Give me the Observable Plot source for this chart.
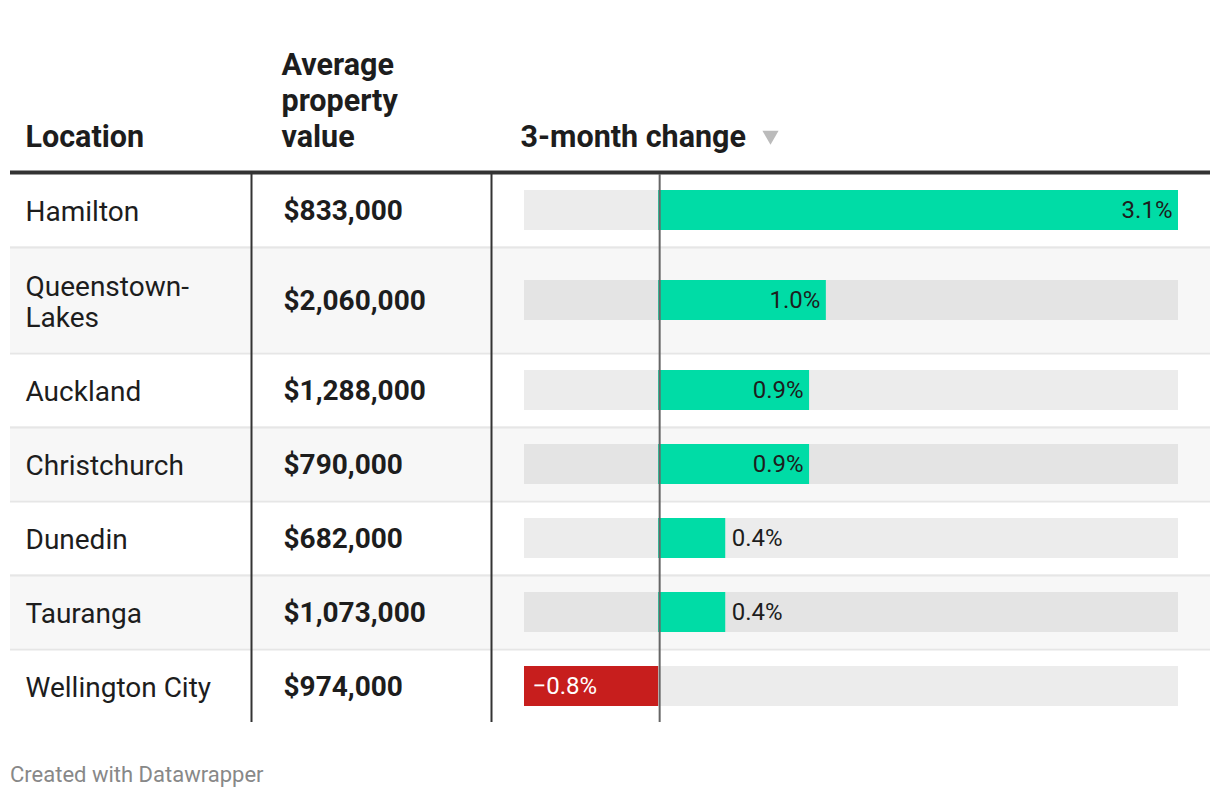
<!DOCTYPE html>
<html><head><meta charset="utf-8">
<script src="https://cdn.jsdelivr.net/npm/d3@7"></script>
<script src="https://cdn.jsdelivr.net/npm/@observablehq/plot@0.6"></script>
<style>
body{margin:0;background:#fff;font-family:Roboto,sans-serif;}
#chart{position:relative;width:1220px;height:798px;}
#footer{position:absolute;left:10px;top:764px;font-size:22px;line-height:22px;color:#888;font-family:Roboto,sans-serif;}
</style></head><body>
<div id="chart"><div id="plot"></div><div id="footer">Created with Datawrapper</div></div>
<script>
// ---- data ----
const locations = ["Hamilton", "Queenstown-Lakes", "Auckland", "Christchurch", "Dunedin", "Tauranga", "Wellington City"];
const propertyValues = [833000, 2060000, 1288000, 790000, 682000, 1073000, 974000];
const changes = [3.1, 1.0, 0.9, 0.9, 0.4, 0.4, -0.8];
const headers = ["Location", "Average property value", "3-month change"];

// ---- layout ----
const W = 1220, H = 730;
const barLeft = 524, barRight = 1178;
const headerRule = 172;
const fmtPct = d3.format(".1f");
const fmtVal = d3.format("$,");
const display = s => s.replace("-", "-\n");

let cursor = headerRule;
const rows = locations.map((loc, i) => {
  const lines = display(loc).split("\n").length;
  const pitch = 74 + 32 * (lines - 1);
  const r = {loc, value: propertyValues[i], change: changes[i], i, top: cursor, pitch, cy: cursor + 1 + pitch / 2};
  cursor += pitch;
  return r;
});
const bottom = cursor;
const dom = [Math.min(0, d3.min(changes)), d3.max(changes)];
const pxPerUnit = (barRight - barLeft) / (dom[1] - dom[0]);
const px = p => dom[0] + (p - barLeft) / pxPerUnit; // pixel -> x units (for table chrome)
const inside = d => Math.abs(d.change) * pxPerUnit > 90;
const green = "#00dca6", red = "#c71e1d", ink = "#1d1d1d";

const plot = Plot.plot({
  width: W, height: H,
  marginLeft: 10, marginRight: 10, marginTop: 0, marginBottom: 0,
  x: {domain: dom, range: [barLeft, barRight], axis: null},
  y: {type: "identity", axis: null},
  style: {fontFamily: "Roboto, sans-serif", background: "white", color: ink},
  marks: [
    Plot.rect(rows.filter(r => r.i % 2 === 1), {x1: px(10), x2: px(1210), y1: "top", y2: d => d.top + d.pitch, fill: "#f7f7f7"}),
    Plot.ruleY(rows.slice(1), {y: d => d.top + 1, stroke: "#e6e6e6", strokeWidth: 2}),
    Plot.ruleY([headerRule], {stroke: "#333", strokeWidth: 4}),
    Plot.ruleX([px(251), px(491)], {y1: headerRule + 2, y2: bottom, stroke: "#333", strokeWidth: 2}),
    // background bars
    Plot.rect(rows, {x1: dom[0], x2: dom[1], y1: d => d.cy - 20, y2: d => d.cy + 20, fill: "#000", fillOpacity: 0.075}),
    // value bars
    Plot.rect(rows, {x1: 0, x2: "change", y1: d => d.cy - 20, y2: d => d.cy + 20, fill: d => d.change >= 0 ? green : red}),
    Plot.ruleX([0], {y1: headerRule + 2, y2: bottom, stroke: "#666", strokeWidth: 2, dx: 1}),
    // bar labels
    Plot.text(rows.filter(d => d.change >= 0 && inside(d)), {x: "change", y: "cy", text: d => fmtPct(d.change) + "%", textAnchor: "end", dx: -6, fill: ink, fontSize: 24}),
    Plot.text(rows.filter(d => d.change >= 0 && !inside(d)), {x: "change", y: "cy", text: d => fmtPct(d.change) + "%", textAnchor: "start", dx: 6, fill: ink, fontSize: 24}),
    Plot.text(rows.filter(d => d.change < 0), {x: "change", y: "cy", text: d => fmtPct(d.change) + "%", textAnchor: "start", dx: 8, fill: "white", fontSize: 24}),
    // table text
    Plot.text(rows, {x: px(25), y: d => d.cy + 1, text: d => display(d.loc), textAnchor: "start", fontSize: 28, lineHeight: 1.107, fill: ink}),
    Plot.text(rows, {x: px(283), y: d => d.cy + 1, text: d => fmtVal(d.value), textAnchor: "start", fontSize: 28, fontWeight: "bold", fill: ink}),
    // headers
    Plot.text([headers[0]], {x: px(25), y: 146, text: d => d, textAnchor: "start", lineAnchor: "bottom", fontSize: 30.5, fontWeight: "bold", fill: ink}),
    Plot.text([headers[1]], {x: px(281), y: 146, text: d => d, textAnchor: "start", lineAnchor: "bottom", lineWidth: 6, lineHeight: 1.18, fontSize: 30.5, fontWeight: "bold", fill: ink}),
    Plot.text([headers[2]], {x: px(520), y: 146, text: d => d, textAnchor: "start", lineAnchor: "bottom", fontSize: 30.5, fontWeight: "bold", fill: ink}),
    Plot.dot([headers[2]], {x: px(770), y: 135, symbol: "triangle", r: 6, rotate: 180, fill: "#bbb", stroke: null})
  ]
});
document.getElementById("plot").appendChild(plot);
</script>
</body></html>
